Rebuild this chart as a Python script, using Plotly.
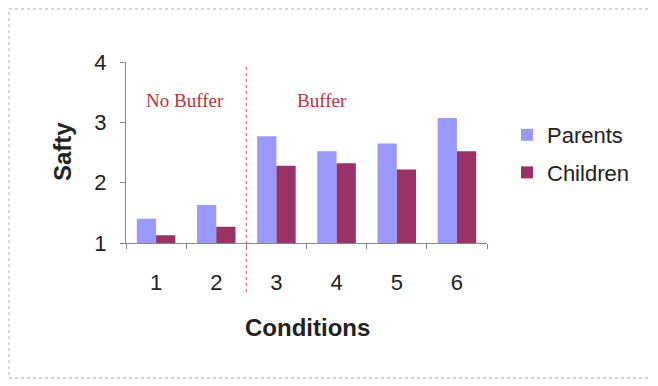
import plotly.graph_objects as go

conditions = ["1", "2", "3", "4", "5", "6"]
parents = [1.40, 1.63, 2.77, 2.52, 2.65, 3.07]
children = [1.13, 1.27, 2.28, 2.32, 2.22, 2.52]
y_ticks = [1, 2, 3, 4]

# page body has an 8px margin; work in screen pixels and convert
OFF = 8
W, H = 658 - OFF, 386 - OFF
PL, PR, PT, PB = 126, 487, 62, 243   # plot area in screen px
L, R, T, B = PL - OFF, W - (PR - OFF), PT - OFF, H - (PB - OFF)
pw, ph = PR - PL, PB - PT

def px_x(x):
    return (x - PL) / pw

def px_y(y):
    return (PB - y) / ph

fig = go.Figure()
fig.add_trace(go.Bar(x=conditions, y=parents, name="Parents",
                     marker=dict(color="#9999FF", line=dict(width=0)),
                     legendgroup="p"))
fig.add_trace(go.Bar(x=conditions, y=children, name="Children",
                     marker=dict(color="#993366", line=dict(width=0)),
                     legendgroup="c"))

fig.update_layout(
    width=W, height=H,
    margin=dict(l=L, r=R, t=T, b=B, pad=0),
    paper_bgcolor="white", plot_bgcolor="white",
    barmode="group", bargap=0.36, bargroupgap=0,
    font=dict(family="Liberation Sans, Arial", color="#222222"),
    showlegend=True,
    legend=dict(x=px_x(507), y=px_y(114), xanchor="left", yanchor="top",
                font=dict(size=22, color="#222222"),
                traceorder="grouped", tracegroupgap=6,
                itemwidth=30, bgcolor="rgba(0,0,0,0)"),
    xaxis=dict(type="category", categoryorder="array", categoryarray=conditions,
               tickson="boundaries", ticks="outside", ticklen=5,
               tickcolor="#888888", showline=True, linecolor="#888888",
               linewidth=1, showgrid=False, zeroline=False,
               tickfont=dict(size=22, color="#222222"),
               ticklabelstandoff=20),
    yaxis=dict(range=[1, 4], tickvals=y_ticks, ticks="outside", ticklen=5,
               tickcolor="#888888", showline=True, linecolor="#888888",
               linewidth=1, showgrid=False, zeroline=False,
               tickfont=dict(size=22, color="#222222"),
               ticklabelstandoff=9),
)

# divider between No Buffer / Buffer
fig.add_shape(type="line", xref="x", yref="paper", x0=1.5, x1=1.5,
              y0=px_y(292), y1=px_y(66),
              line=dict(color="#d06060", width=1, dash="dot"))

# outer dotted frame
fig.add_shape(type="rect", xref="paper", yref="paper",
              x0=px_x(9), x1=px_x(651), y0=px_y(378), y1=px_y(9),
              line=dict(color="#b0b0b0", width=1, dash="dot"))

common = dict(xref="paper", yref="paper", showarrow=False,
              xanchor="center", yanchor="middle")
fig.add_annotation(text="No Buffer", x=px_x(185), y=px_y(100),
                   font=dict(family="Liberation Serif, Times New Roman", size=19, color="#c0303a"),
                   **common)
fig.add_annotation(text="Buffer", x=px_x(322), y=px_y(100),
                   font=dict(family="Liberation Serif, Times New Roman", size=19, color="#c0303a"),
                   **common)
fig.add_annotation(text="<b>Conditions</b>", x=px_x(307), y=px_y(327),
                   font=dict(size=24, color="#222222"), **common)
fig.add_annotation(text="<b>Safty</b>", x=px_x(62), y=px_y(152), textangle=-90,
                   font=dict(size=24, color="#222222"), **common)

fig.write_html("out.html")
